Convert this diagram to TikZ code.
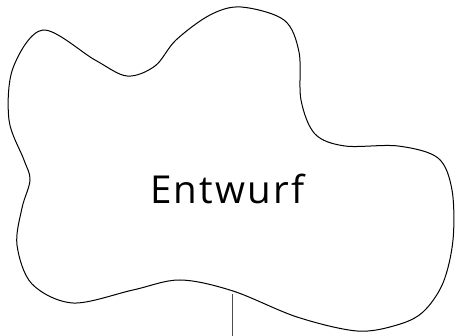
\documentclass[tikz,border=0pt]{standalone}
\usepackage{fontspec}
\setmainfont{Open Sans}
\newfontfamily\labelfont[LetterSpace=6]{Open Sans}
\usetikzlibrary{positioning}

\begin{document}
\begin{tikzpicture}[
                x=1pt, y=-1pt,
                blob/.style={draw=black, line width=1pt, smooth cycle, tension=0.55},
                label/.style={font=\labelfont\fontsize{38.5}{40}\selectfont, inner sep=0pt, anchor=base},
                link/.style={draw=black!70, line width=1.4pt},
            ]
            \useasboundingbox (0,0) rectangle (456,336);
            % the cloud
            \draw[blob] plot coordinates {(43,30) (95,60) (127,76) (155,66) (176,40) (210,15) (241,7)
                (284,20) (299,52) (301,100) (315,134) (345,146) (398,146) (438,158)
                (452,190) (453,240) (443,283) (423,312) (397,325) (357,331) (297,317)
                (233,291) (180,280) (133,290) (73,303) (32,284) (17,245) (22,208)
                (30,180) (24,160) (9,120) (13,68)};
            \node[label] (entwurf) at (227.5,204) {Entwurf};
            \coordinate (blobfoot) at (232.5,294);
            \coordinate (exit) at (232.5,336);
            \draw[link] (blobfoot) -- (exit);
\end{tikzpicture}
\end{document}
